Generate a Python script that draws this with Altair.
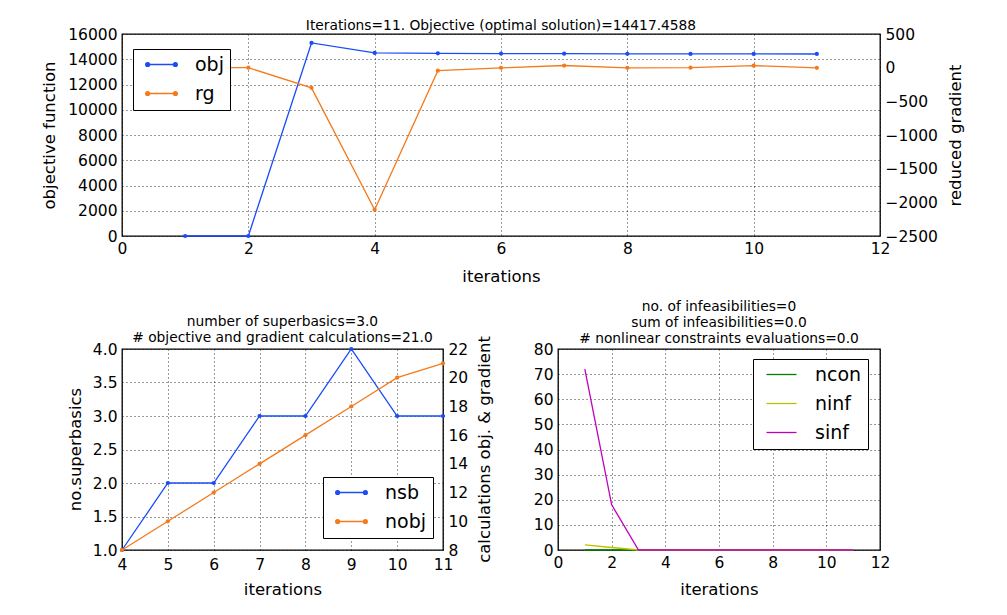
import altair as alt
import pandas as pd

# ---------------- data ----------------
ITER_TOP = [1, 2, 3, 4, 5, 6, 7, 8, 9, 10, 11]
OBJ = [0, 0, 15290, 14500, 14470, 14450, 14440, 14430, 14425, 14420, 14417.4588]
RG = [0, 0, -300, -2110, -45, -3, 32, -3, 0, 30, -2]

ITER_BL = [4, 5, 6, 7, 8, 9, 10, 11]
NSB = [1, 2, 2, 3, 3, 4, 3, 3]
NOBJ = [8, 10, 12, 14, 16, 18, 20, 21]

ITER_BR = [1, 2, 3, 4, 5, 6, 7, 8, 9, 10, 11]
NCON = [0, 0, 0, 0, 0, 0, 0, 0, 0, 0, 0]
NINF = [2, 1, 0, 0, 0, 0, 0, 0, 0, 0, 0]
SINF = [72, 18, 0, 0, 0, 0, 0, 0, 0, 0, 0]

TITLE_TOP = "Iterations=11. Objective (optimal solution)=14417.4588"
TITLE_BL = ["number of superbasics=3.0", "# objective and gradient calculations=21.0"]
TITLE_BR = ["no. of infeasibilities=0", "sum of infeasibilities=0.0",
            "# nonlinear constraints evaluations=0.0"]

BLUE = "#1a4cf8"
ORANGE = "#f47a1c"
GREEN = "#008000"
YELLOW = "#bfbf00"
MAGENTA = "#bf00bf"

FONT = "DejaVu Sans"


def circle_path(cx, rr):
    return (f"M{cx - rr},0A{rr},{rr},0,1,0,{cx + rr},0"
            f"A{rr},{rr},0,1,0,{cx - rr},0Z")


LINE_ONLY = "M-2,0L2,0"
LINE_DOTS = LINE_ONLY + "".join(circle_path(c, r) for c in (-1.85, 1.85)
                                for r in (0.08, 0.17, 0.26))


def df(it, vals, name):
    return pd.DataFrame({"it": it, "v": vals, "s": [name] * len(it)})


def legend(x, y, path):
    return alt.Legend(title=None, orient="none", legendX=x, legendY=y,
                      symbolType=path, symbolSize=225, symbolOffset=13,
                      symbolStrokeWidth=1.3, labelOffset=24, rowPadding=9,
                      labelFontSize=19, labelFont=FONT, labelColor="black",
                      padding=6, strokeColor="black", fillColor="white",
                      cornerRadius=0)


def grid_x(domain, values, title_y=40, pad=5):
    return alt.X("it:Q", scale=alt.Scale(domain=domain, nice=False, zero=False),
                 axis=alt.Axis(values=values, title="iterations", titleY=title_y,
                               titleBaseline="middle", format="d", labelPadding=pad))


# ---------------- top ----------------
top_names = ["obj", "rg"]
top_colors = [BLUE, ORANGE]
top_color = alt.Color("s:N", scale=alt.Scale(domain=top_names, range=top_colors),
                      legend=legend(11, 15, LINE_DOTS))
pt = alt.OverlayMarkDef(filled=True, size=18, opacity=1)

obj_layer = alt.Chart(df(ITER_TOP, OBJ, "obj")).mark_line(strokeWidth=1.3, point=pt).encode(
    x=grid_x([0, 12], list(range(0, 13, 2))),
    y=alt.Y("v:Q", scale=alt.Scale(domain=[0, 16000], nice=False),
            axis=alt.Axis(values=list(range(0, 16001, 2000)), format="d",
                          title="objective function", titleX=-73, titleY=101,
                          titleAngle=270, titleBaseline="middle", titleAlign="center")),
    color=top_color)
rg_layer = alt.Chart(df(ITER_TOP, RG, "rg")).mark_line(strokeWidth=1.3, point=pt).encode(
    x=grid_x([0, 12], list(range(0, 13, 2))),
    y=alt.Y("v:Q", scale=alt.Scale(domain=[-2500, 500], nice=False, zero=False),
            axis=alt.Axis(orient="right", grid=False, values=list(range(-2500, 501, 500)),
                          format="d", title="reduced gradient", titleX=75, titleY=101,
                          titleAngle=270, titleBaseline="middle", titleAlign="center")),
    color=top_color)
top = alt.layer(obj_layer, rg_layer).resolve_scale(y="independent").properties(
    width=758, height=202, title=alt.TitleParams(TITLE_TOP, offset=-6))

# ---------------- bottom left ----------------
bl_names = ["nsb", "nobj"]
bl_colors = [BLUE, ORANGE]
bl_color = alt.Color("s:N", scale=alt.Scale(domain=bl_names, range=bl_colors),
                     legend=legend(201, 128, LINE_DOTS))
nsb_layer = alt.Chart(df(ITER_BL, NSB, "nsb")).mark_line(strokeWidth=1.3, point=pt).encode(
    x=grid_x([4, 11], ITER_BL, 39, 7),
    y=alt.Y("v:Q", scale=alt.Scale(domain=[1, 4], nice=False, zero=False),
            axis=alt.Axis(values=[1, 1.5, 2, 2.5, 3, 3.5, 4], format=".1f",
                          title="no.superbasics", titleX=-47, titleY=100,
                          titleAngle=270, titleBaseline="middle", titleAlign="center")),
    color=bl_color)
nobj_layer = alt.Chart(df(ITER_BL, NOBJ, "nobj")).mark_line(strokeWidth=1.3, point=pt).encode(
    x=grid_x([4, 11], ITER_BL, 39, 7),
    y=alt.Y("v:Q", scale=alt.Scale(domain=[8, 22], nice=False, zero=False),
            axis=alt.Axis(orient="right", grid=False, values=list(range(8, 23, 2)),
                          format="d", title="calculations obj. & gradient", titleX=41,
                          titleY=100, titleAngle=270, titleBaseline="middle",
                          titleAlign="center")),
    color=bl_color)
bl = alt.layer(nsb_layer, nobj_layer).resolve_scale(y="independent").properties(
    width=321, height=201, title=alt.TitleParams(TITLE_BL, offset=-9))

# ---------------- bottom right ----------------
br_names = ["ncon", "ninf", "sinf"]
br_colors = [GREEN, YELLOW, MAGENTA]
br_df = pd.concat([df(ITER_BR, NCON, "ncon"), df(ITER_BR, NINF, "ninf"),
                   df(ITER_BR, SINF, "sinf")], ignore_index=True)
br = alt.Chart(br_df).mark_line(strokeWidth=1.3).encode(
    x=grid_x([0, 12], list(range(0, 13, 2)), 39),
    y=alt.Y("v:Q", scale=alt.Scale(domain=[0, 80], nice=False),
            axis=alt.Axis(values=list(range(0, 81, 10)), format="d", title=None)),
    color=alt.Color("s:N", scale=alt.Scale(domain=br_names, range=br_colors),
                    legend=legend(195, 10, LINE_ONLY)),
).properties(width=322, height=201, title=alt.TitleParams(TITLE_BR, offset=-4))

bottom = alt.hconcat(bl, br, spacing=115, bounds="flush").resolve_scale(color="independent")
chart = alt.vconcat(top, bottom, spacing=113, bounds="flush").resolve_scale(
    color="independent").properties(
    padding={"left": 32, "top": 10, "right": 5, "bottom": 5}, background="white"
).configure_view(stroke="black", strokeWidth=1.3).configure_axis(
    labelFont=FONT, labelFontSize=15.5, labelColor="black", labelPadding=5,
    labelFlush=False,
    titleFont=FONT, titleFontSize=16.5, titleFontWeight="normal", titleColor="black",
    domain=False, ticks=False, grid=True, gridColor="black", gridDash=[1, 3],
    gridWidth=0.8, gridOpacity=1
).configure_title(font=FONT, fontSize=13.8, fontWeight="normal", color="black",
                  anchor="middle", lineHeight=16)

chart.save("out.html", embed_options={"renderer": "svg", "actions": False})
